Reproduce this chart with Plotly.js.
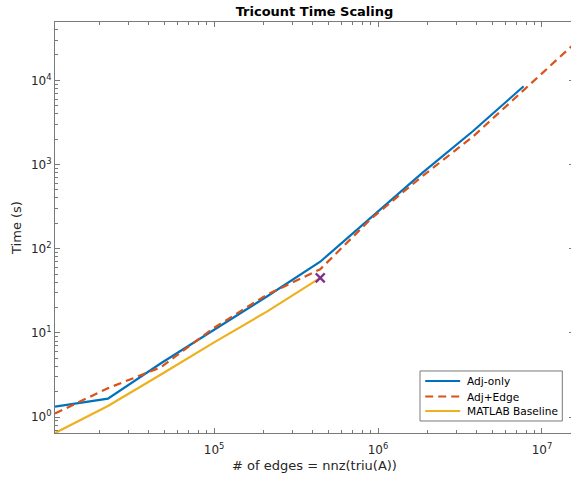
<!DOCTYPE html>
<html>
<head>
<meta charset="utf-8">
<script src="https://cdn.plot.ly/plotly-3.0.1.min.js"></script>
<style>
html,body{margin:0;padding:0;overflow:hidden;background:#fff;}
#chart{width:576px;height:478px;}
</style>
</head>
<body>
<div id="chart"></div>
<script>
// Number of edges (x) for each graph size
const edges = [10700, 22500, 47400, 100000, 211000, 444000, 914000, 1870000, 3800000, 7730000, 15680000];
// Time (s) per series
const adjOnly  = [1.33, 1.65, 4.35, 10.8, 27.2, 70, 240, 800, 2500, 8500];
const adjEdge  = [1.1, 2.2, 3.9, 11.5, 28.5, 57, 230, 730, 2150, 7600, 27000];
const baseline = [0.645, 1.35, 3.2, 7.7, 18, 45];
// Marked point (baseline end)
const markX = [444000];
const markY = [45];

const seriesNames  = ['Adj-only', 'Adj+Edge', 'MATLAB Baseline'];
const seriesColors = ['#0072BD', '#D95319', '#EDB120'];
const seriesDash   = ['solid', '8px,5px', 'solid'];

const xTickVals = [1e5, 1e6, 1e7];
const xTickText = ['10<sup>5</sup>', '10<sup>6</sup>', '10<sup>7</sup>'];
const yTickVals = [1, 10, 100, 1000, 10000];
const yTickText = ['10<sup>0</sup>', '10<sup>1</sup>', '10<sup>2</sup>', '10<sup>3</sup>', '10<sup>4</sup>'];

function minorVals(lo, hi) {
  const v = [];
  for (let p = lo; p <= hi; p++) for (let d = 2; d <= 9; d++) v.push(d * Math.pow(10, p));
  return v;
}

const seriesY = [adjOnly, adjEdge, baseline];
const traces = seriesY.map((ys, i) => ({
  x: edges.slice(0, ys.length), y: ys, name: seriesNames[i], type: 'scatter', mode: 'lines',
  showlegend: false,
  line: {color: seriesColors[i], width: 2.2, dash: seriesDash[i]}
}));
traces.push({x: markX, y: markY, type: 'scatter', mode: 'markers', showlegend: false,
   marker: {symbol: 'x-thin', size: 9, color: '#7E2F8E', line: {color: '#7E2F8E', width: 2.2}}});

// Legend box drawn in paper coordinates (MATLAB-style compact legend)
const legBox = {x0: 0.7033, x1: 0.9775, y0: 0.0292, y1: 0.1509};
const legRowY = [0.1265, 0.0888, 0.0535];
const legLineX = [0.7133, 0.7807];
const legTextX = 0.790;

const shapes = [{type: 'rect', xref: 'paper', yref: 'paper', layer: 'above',
  x0: legBox.x0, x1: legBox.x1, y0: legBox.y0, y1: legBox.y1,
  fillcolor: '#ffffff', line: {color: '#7a7a7a', width: 1}}];
const annotations = [];
seriesNames.forEach((n, i) => {
  shapes.push({type: 'line', xref: 'paper', yref: 'paper', layer: 'above',
    x0: legLineX[0], x1: legLineX[1], y0: legRowY[i], y1: legRowY[i],
    line: {color: seriesColors[i], width: 2.2, dash: seriesDash[i]}});
  annotations.push({xref: 'paper', yref: 'paper', x: legTextX, y: legRowY[i],
    xanchor: 'left', yanchor: 'middle', showarrow: false, text: n,
    font: {family: 'DejaVu Sans', size: 10.6, color: '#000000'}});
});

const axisCommon = {
  type: 'log', showgrid: false, zeroline: false,
  showline: true, linecolor: '#7a7a7a', linewidth: 1, mirror: 'ticks',
  ticks: 'inside', ticklen: 5, tickcolor: '#7a7a7a', tickwidth: 1,
  tickmode: 'array',
  tickfont: {family: 'DejaVu Sans', size: 12, color: '#262626'},
};

const layout = {
  width: 576, height: 478,
  margin: {l: 55, r: 2, t: 22, b: 45},
  paper_bgcolor: '#ffffff', plot_bgcolor: '#ffffff',
  title: {text: '<b>Tricount Time Scaling</b>', x: 0.5, xref: 'paper', y: 0.977, yanchor: 'middle',
          font: {family: 'DejaVu Sans', size: 13, color: '#000000'}},
  xaxis: Object.assign({}, axisCommon, {
    range: [Math.log10(10700), Math.log10(15680000)],
    tickvals: xTickVals, ticktext: xTickText,
    ticklabelstandoff: 6,
    minor: {tickmode: 'array', tickvals: minorVals(4, 7), ticks: 'inside', ticklen: 3, tickcolor: '#7a7a7a', showgrid: false},
    title: {text: '# of edges = nnz(triu(A))', standoff: 4, font: {family: 'DejaVu Sans', size: 13, color: '#262626'}}
  }),
  yaxis: Object.assign({}, axisCommon, {
    range: [-0.19, 4.693],
    tickvals: yTickVals, ticktext: yTickText,
    minor: {tickmode: 'array', tickvals: minorVals(-1, 4), ticks: 'inside', ticklen: 3, tickcolor: '#7a7a7a', showgrid: false},
    title: {text: 'Time (s)', standoff: 6, font: {family: 'DejaVu Sans', size: 13, color: '#262626'}}
  }),
  shapes: shapes,
  annotations: annotations,
  showlegend: false
};

Plotly.newPlot('chart', traces, layout, {displayModeBar: false, staticPlot: true});
</script>
</body>
</html>
